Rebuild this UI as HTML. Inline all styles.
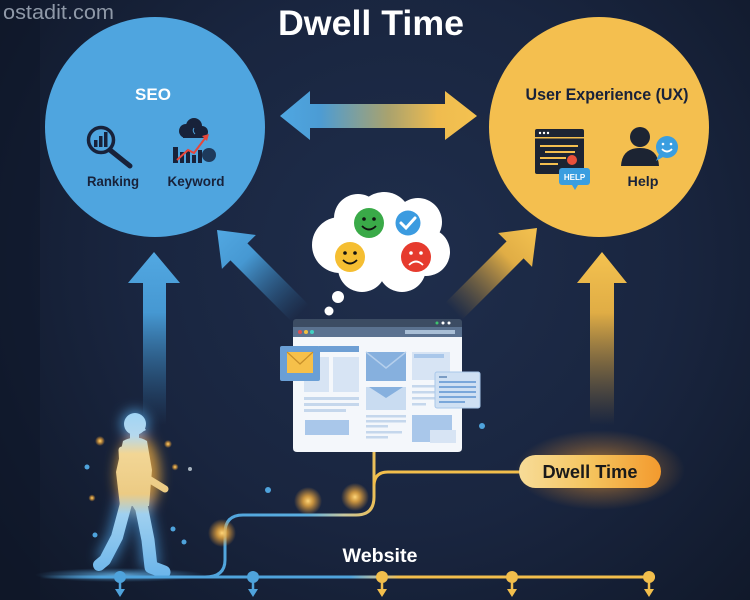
<!DOCTYPE html>
<html><head><meta charset="utf-8"><style>
html,body{margin:0;padding:0;background:#141d33;}
svg{display:block;}
text{font-family:"Liberation Sans",Arial,sans-serif;}
</style></head><body>
<svg width="750" height="600" viewBox="0 0 750 600" xmlns="http://www.w3.org/2000/svg">
<defs>
 <radialGradient id="bg" cx="400" cy="260" r="500" gradientUnits="userSpaceOnUse">
  <stop offset="0" stop-color="#1f2e4c"/>
  <stop offset="0.55" stop-color="#19253f"/>
  <stop offset="1" stop-color="#101829"/>
 </radialGradient>
 <linearGradient id="dbl" x1="280" y1="0" x2="477" y2="0" gradientUnits="userSpaceOnUse">
  <stop offset="0" stop-color="#4fa7e2"/>
  <stop offset="0.2" stop-color="#4c9cd4"/>
  <stop offset="0.55" stop-color="#a9a26e"/>
  <stop offset="0.8" stop-color="#efbc4f"/>
  <stop offset="1" stop-color="#f4c250"/>
 </linearGradient>
 <linearGradient id="blueUp" x1="0" y1="0" x2="0" y2="1">
  <stop offset="0" stop-color="#52a8e2"/>
  <stop offset="0.35" stop-color="#4698d2"/>
  <stop offset="1" stop-color="#2f6c9e" stop-opacity="0"/>
 </linearGradient>
 <linearGradient id="goldUp" x1="0" y1="0" x2="0" y2="1">
  <stop offset="0" stop-color="#f4c250"/>
  <stop offset="0.35" stop-color="#e0ad45"/>
  <stop offset="1" stop-color="#a8803a" stop-opacity="0"/>
 </linearGradient>
 <linearGradient id="pill" x1="0" y1="0" x2="1" y2="0">
  <stop offset="0" stop-color="#f7dc98"/>
  <stop offset="0.5" stop-color="#f5c45e"/>
  <stop offset="1" stop-color="#f39a2e"/>
 </linearGradient>
 <linearGradient id="path1" x1="200" y1="0" x2="380" y2="0" gradientUnits="userSpaceOnUse">
  <stop offset="0" stop-color="#4fa3dc"/>
  <stop offset="0.6" stop-color="#5aaee0"/>
  <stop offset="0.8" stop-color="#c8c8a0"/>
  <stop offset="1" stop-color="#f2be4c"/>
 </linearGradient>
 <linearGradient id="base" x1="40" y1="0" x2="660" y2="0" gradientUnits="userSpaceOnUse">
  <stop offset="0" stop-color="#4fa3dc" stop-opacity="0"/>
  <stop offset="0.1" stop-color="#4fa3dc"/>
  <stop offset="0.5" stop-color="#4fa3dc"/>
  <stop offset="0.55" stop-color="#c9c39a"/>
  <stop offset="0.58" stop-color="#f2be4c"/>
  <stop offset="1" stop-color="#f2be4c"/>
 </linearGradient>
 <radialGradient id="glow">
  <stop offset="0" stop-color="#ffd67a"/>
  <stop offset="0.35" stop-color="#f5b040" stop-opacity="0.8"/>
  <stop offset="1" stop-color="#f5a030" stop-opacity="0"/>
 </radialGradient>
 <radialGradient id="pillGlow">
  <stop offset="0" stop-color="#f5a030" stop-opacity="0.75"/>
  <stop offset="0.6" stop-color="#d88a30" stop-opacity="0.3"/>
  <stop offset="1" stop-color="#d88a30" stop-opacity="0"/>
 </radialGradient>
 <radialGradient id="ground">
  <stop offset="0" stop-color="#6fc0f5" stop-opacity="0.8"/>
  <stop offset="1" stop-color="#4fa3dc" stop-opacity="0"/>
 </radialGradient>
 <linearGradient id="personG" x1="0" y1="410" x2="0" y2="578" gradientUnits="userSpaceOnUse">
  <stop offset="0" stop-color="#9ed4f6"/>
  <stop offset="0.15" stop-color="#b4d8ee"/>
  <stop offset="0.26" stop-color="#f2d695"/>
  <stop offset="0.5" stop-color="#eccb84"/>
  <stop offset="0.62" stop-color="#9fd0f0"/>
  <stop offset="1" stop-color="#6ab4ea"/>
 </linearGradient>
 <filter id="blur6" x="-50%" y="-50%" width="200%" height="200%"><feGaussianBlur stdDeviation="6"/></filter>
</defs>

<rect width="750" height="600" fill="url(#bg)"/>
<rect width="40" height="600" fill="#0e1627" opacity="0.5"/>

<text x="3" y="19" font-size="20" fill="#8f99a8" textLength="111" lengthAdjust="spacingAndGlyphs">ostadit.com</text>

<text x="371" y="35" font-size="35" font-weight="bold" fill="#ffffff" text-anchor="middle" textLength="186" lengthAdjust="spacingAndGlyphs">Dwell Time</text>

<!-- SEO circle -->
<circle cx="155" cy="127" r="110" fill="#4fa5df"/>
<text x="153" y="100" font-size="17" font-weight="bold" fill="#ffffff" text-anchor="middle">SEO</text>
<circle cx="101" cy="140" r="12.5" fill="none" stroke="#18223a" stroke-width="3.5"/>
<rect x="94" y="140" width="3.5" height="7" fill="#18223a"/>
<rect x="99" y="136" width="3.5" height="11" fill="#18223a"/>
<rect x="104" y="132" width="3.5" height="15" fill="#18223a"/>
<line x1="110" y1="150" x2="130" y2="166" stroke="#18223a" stroke-width="5" stroke-linecap="round"/>
<text x="113" y="186" font-size="14" font-weight="bold" fill="#18223a" text-anchor="middle" textLength="52" lengthAdjust="spacingAndGlyphs">Ranking</text>
<circle cx="186" cy="131" r="7" fill="#18223a"/>
<circle cx="194" cy="126" r="8" fill="#18223a"/>
<circle cx="202" cy="132" r="6" fill="#18223a"/>
<rect x="183" y="131" width="22" height="7" fill="#18223a"/>
<path d="M194,128 q-2,3 1,6" stroke="#4fa5df" stroke-width="1" fill="none"/>
<rect x="173" y="147" width="5" height="16" fill="#18223a"/>
<rect x="180" y="152" width="4" height="11" fill="#18223a"/>
<rect x="186" y="150" width="4" height="13" fill="#18223a"/>
<rect x="192" y="155" width="4" height="8" fill="#18223a"/>
<rect x="198" y="150" width="4" height="13" fill="#18223a"/>
<circle cx="209" cy="155" r="7" fill="#1e3a5c"/>
<path d="M177,160 L188,150 L194,153 L206,137" stroke="#e8463a" stroke-width="2" fill="none"/>
<path d="M202,136 L209,134 L207,141 Z" fill="#e8463a"/>
<text x="196" y="186" font-size="14" font-weight="bold" fill="#18223a" text-anchor="middle" textLength="57" lengthAdjust="spacingAndGlyphs">Keyword</text>

<!-- UX circle -->
<circle cx="599" cy="127" r="110" fill="#f4bf4f"/>
<text x="607" y="100" font-size="17" font-weight="bold" fill="#18223a" text-anchor="middle" textLength="163" lengthAdjust="spacingAndGlyphs">User Experience (UX)</text>
<rect x="535" y="129" width="49" height="45" rx="2" fill="#1c2433"/>
<rect x="535" y="137" width="49" height="1.5" fill="#f4bf4f"/>
<circle cx="540" cy="133" r="1.2" fill="#fff"/><circle cx="544" cy="133" r="1.2" fill="#fff"/><circle cx="548" cy="133" r="1.2" fill="#fff"/>
<rect x="540" y="145" width="38" height="2" fill="#f4bf4f"/>
<rect x="545" y="151" width="30" height="2" fill="#f4bf4f"/>
<rect x="540" y="157" width="26" height="2" fill="#f4bf4f"/>
<rect x="540" y="163" width="18" height="2" fill="#f4bf4f"/>
<circle cx="572" cy="160" r="5" fill="#e8503a"/>
<path d="M565,171 q7,-6 14,0 z" fill="#e8503a"/>
<rect x="559" y="168" width="31" height="17" rx="3" fill="#3a9ee0"/>
<path d="M572,185 L575,190 L578,185 Z" fill="#3a9ee0"/>
<text x="574.5" y="180" font-size="8" font-weight="bold" fill="#ffffff" text-anchor="middle">HELP</text>
<circle cx="640" cy="137" r="10" fill="#1c2433"/>
<path d="M621,166 Q622,148 640,148 Q658,148 659,166 Z" fill="#1c2433"/>
<circle cx="667" cy="147" r="11" fill="#3a9ee0"/>
<path d="M659,154 L656,161 L663,157 Z" fill="#3a9ee0"/>
<circle cx="663" cy="144" r="1.3" fill="#fff"/><circle cx="671" cy="144" r="1.3" fill="#fff"/>
<path d="M662,149 q5,5 10,0" stroke="#fff" stroke-width="1.8" fill="none"/>
<text x="643" y="186" font-size="14" font-weight="bold" fill="#18223a" text-anchor="middle" textLength="31" lengthAdjust="spacingAndGlyphs">Help</text>

<!-- double arrow -->
<path d="M280,116 L310,91 L310,104 L445,104 L445,91 L477,116 L445,140 L445,128 L310,128 L310,140 Z" fill="url(#dbl)"/>

<!-- vertical arrows -->
<path d="M154,252 L180,283 L166,283 L166,425 L143,425 L143,283 L128,283 Z" fill="url(#blueUp)"/>
<path d="M602,252 L627,283 L614,283 L614,425 L590,425 L590,283 L577,283 Z" fill="url(#goldUp)"/>
<g transform="translate(217,230) rotate(-45)">
 <path d="M0,0 L24,31 L12,31 L12,118 L-12,118 L-12,31 L-24,31 Z" fill="url(#blueUp)"/>
</g>
<g transform="translate(537,228) rotate(45)">
 <path d="M0,0 L24,31 L12,31 L12,118 L-12,118 L-12,31 L-24,31 Z" fill="url(#goldUp)"/>
</g>

<!-- cloud -->
<g fill="#ffffff">
 <circle cx="340" cy="245" r="28"/>
 <circle cx="358" cy="218" r="24"/>
 <circle cx="384" cy="219" r="27"/>
 <circle cx="418" cy="222" r="24"/>
 <circle cx="426" cy="252" r="24"/>
 <circle cx="402" cy="268" r="24"/>
 <circle cx="362" cy="268" r="24"/>
 <circle cx="382" cy="247" r="30"/>
 <circle cx="338" cy="297" r="6"/>
 <circle cx="329" cy="311" r="4.5"/>
</g>
<circle cx="369" cy="223" r="15" fill="#3aaa48"/>
<circle cx="364" cy="219" r="1.8" fill="#111"/><circle cx="374" cy="219" r="1.8" fill="#111"/>
<path d="M362,226 q7,7 14,0" stroke="#111" stroke-width="1.8" fill="none"/>
<circle cx="408" cy="223" r="12.5" fill="#3b9be0"/>
<path d="M401,223 L406,228 L415,218" stroke="#fff" stroke-width="3" fill="none" stroke-linecap="round"/>
<circle cx="350" cy="257" r="15" fill="#f5be32"/>
<circle cx="345" cy="253" r="1.8" fill="#111"/><circle cx="355" cy="253" r="1.8" fill="#111"/>
<path d="M343,260 q7,7 14,0" stroke="#111" stroke-width="1.8" fill="none"/>
<circle cx="416" cy="257" r="15" fill="#e63b2e"/>
<circle cx="411" cy="253" r="1.8" fill="#fff"/><circle cx="421" cy="253" r="1.8" fill="#fff"/>
<path d="M409,265 q7,-7 14,0" stroke="#fff" stroke-width="1.8" fill="none"/>

<!-- browser -->
<rect x="293" y="319" width="169" height="18" rx="3" fill="#3c4c63"/>
<circle cx="437" cy="323" r="1.5" fill="#3ec46d"/><circle cx="443" cy="323" r="1.5" fill="#fff"/><circle cx="449" cy="323" r="1.5" fill="#fff"/>
<rect x="293" y="327" width="169" height="10" fill="#5b7290"/>
<circle cx="300" cy="332" r="2" fill="#e05050"/><circle cx="306" cy="332" r="2" fill="#f0c040"/><circle cx="312" cy="332" r="2" fill="#40d0c0"/>
<rect x="405" y="330" width="50" height="4" fill="#a9bfd6"/>
<path d="M293,337 H462 V448 Q462,452 458,452 H297 Q293,452 293,448 Z" fill="#f4f7fb"/>
<rect x="319" y="346" width="40" height="6" fill="#6e9fd4"/>
<rect x="304" y="357" width="25" height="35" fill="#d7e4f4"/>
<rect x="333" y="357" width="26" height="35" fill="#d7e4f4"/>
<rect x="304" y="397" width="55" height="3" fill="#c5d7ec"/>
<rect x="304" y="403" width="55" height="3" fill="#c5d7ec"/>
<rect x="304" y="409" width="42" height="3" fill="#c5d7ec"/>
<rect x="305" y="420" width="44" height="15" fill="#a9c7ea"/>
<rect x="280" y="346" width="40" height="35" rx="2" fill="#6a9fd6"/>
<rect x="287" y="352" width="26" height="21" fill="#f6c04a"/>
<path d="M287,352 L300,364 L313,352" stroke="#c8902a" stroke-width="1.2" fill="none"/>
<rect x="366" y="352" width="40" height="29" fill="#86b0de"/>
<path d="M366,352 L386,368 L406,352" stroke="#b5cfec" stroke-width="1.5" fill="none"/>
<rect x="366" y="387" width="40" height="23" fill="#c9dcf1"/>
<path d="M369,387 L386,398 L403,387 Z" fill="#86b0de"/>
<rect x="366" y="415" width="40" height="2.5" fill="#c5d7ec"/>
<rect x="366" y="420" width="40" height="2.5" fill="#c5d7ec"/>
<rect x="366" y="425" width="22" height="2.5" fill="#c5d7ec"/>
<rect x="366" y="431" width="36" height="2.5" fill="#c5d7ec"/>
<rect x="366" y="436" width="22" height="2.5" fill="#c5d7ec"/>
<rect x="412" y="352" width="38" height="28" fill="#d7e4f4"/>
<rect x="414" y="354" width="30" height="4" fill="#a9c7ea"/>
<rect x="412" y="385" width="24" height="2.5" fill="#c5d7ec"/>
<rect x="412" y="391" width="24" height="2.5" fill="#c5d7ec"/>
<rect x="412" y="397" width="24" height="2.5" fill="#c5d7ec"/>
<rect x="412" y="403" width="14" height="2.5" fill="#c5d7ec"/>
<rect x="435" y="372" width="45" height="36" rx="2" fill="#cfe0f3" stroke="#a9c7ea" stroke-width="1"/>
<rect x="439" y="376" width="8" height="2" fill="#7a9cc4"/>
<rect x="439" y="381" width="37" height="2" fill="#7aa7da"/>
<rect x="439" y="386" width="37" height="2" fill="#7aa7da"/>
<rect x="439" y="391" width="37" height="2" fill="#7aa7da"/>
<rect x="439" y="396" width="37" height="2" fill="#7aa7da"/>
<rect x="439" y="401" width="26" height="2" fill="#7aa7da"/>
<rect x="412" y="415" width="40" height="27" fill="#a9c7ea"/>
<rect x="430" y="430" width="26" height="13" fill="#d7e4f4"/>

<circle cx="482" cy="426" r="3" fill="#4fa3dc"/>

<!-- connectors -->
<path d="M205,577 Q225,577 225,560 L225,533 Q225,515 243,515 L356,515 Q374,515 374,497 L374,452" stroke="url(#path1)" stroke-width="3" fill="none"/>
<path d="M374,486 Q374,472 388,472 L522,472" stroke="#f2be4c" stroke-width="3" fill="none"/>

<!-- pill -->
<ellipse cx="600" cy="470" rx="85" ry="40" fill="url(#pillGlow)"/>
<rect x="519" y="455" width="142" height="33" rx="16.5" fill="url(#pill)"/>
<text x="590" y="478" font-size="18.5" font-weight="bold" fill="#1a1a1a" text-anchor="middle" textLength="95" lengthAdjust="spacingAndGlyphs">Dwell Time</text>

<!-- glow dots -->
<circle cx="308" cy="501" r="14" fill="url(#glow)"/>
<circle cx="355" cy="497" r="14" fill="url(#glow)"/>
<circle cx="222" cy="533" r="14" fill="url(#glow)"/>
<circle cx="100" cy="441" r="5" fill="url(#glow)"/>
<circle cx="168" cy="444" r="4" fill="url(#glow)"/>
<circle cx="175" cy="467" r="3.5" fill="url(#glow)"/>
<circle cx="92" cy="498" r="3.5" fill="url(#glow)"/>
<circle cx="87" cy="467" r="2.5" fill="#4fa3dc"/>
<circle cx="190" cy="469" r="2" fill="#a8b4c0"/>
<circle cx="173" cy="529" r="2.5" fill="#4fa3dc"/>
<circle cx="184" cy="542" r="2.5" fill="#4fa3dc"/>
<circle cx="95" cy="535" r="2.5" fill="#4fa3dc"/>
<circle cx="268" cy="490" r="3" fill="#4fa3dc"/>

<ellipse cx="120" cy="575" rx="85" ry="7" fill="url(#ground)"/>

<!-- person glow -->
<g filter="url(#blur6)">
 <ellipse cx="138" cy="475" rx="22" ry="40" fill="#f5b040" opacity="0.75"/>
 <circle cx="135" cy="424" r="14" fill="#5ab0f0" opacity="0.7"/>
 <path d="M126,500 L116,538 L104,562 M140,500 L148,540 L151,568" stroke="#4fa8ee" stroke-width="18" fill="none" opacity="0.6"/>
</g>
<!-- person -->
<g fill="url(#personG)" stroke="url(#personG)" stroke-linecap="round" stroke-linejoin="round">
 <circle cx="135" cy="424" r="11" stroke="none"/>
 <path d="M142,425 L146,430 L142,432 Z" stroke="none"/>
 <rect x="130" y="432" width="9" height="10" stroke="none"/>
 <path d="M123,441 Q136,434 147,441 L152,470 L149,506 L120,506 L116,472 Z" stroke="none"/>
 <path d="M142,447 L147,478 L165,489" stroke-width="7" fill="none"/>
 <path d="M122,450 L124,485 L138,508" stroke-width="7" fill="none"/>
 <path d="M140,500 L148,540 L151,567 L164,572" stroke-width="13" fill="none"/>
 <path d="M127,500 L117,537 L105,560 L99,565" stroke-width="12" fill="none"/>
</g>

<!-- baseline -->
<line x1="40" y1="577" x2="655" y2="577" stroke="url(#base)" stroke-width="3"/>
<g fill="#4fa3dc" stroke="#4fa3dc">
 <circle cx="120" cy="577" r="6" stroke="none"/>
 <line x1="120" y1="577" x2="120" y2="592" stroke-width="2.5"/>
 <path d="M115,589 L125,589 L120,597 Z" stroke="none"/>
 <circle cx="253" cy="577" r="6" stroke="none"/>
 <line x1="253" y1="577" x2="253" y2="592" stroke-width="2.5"/>
 <path d="M248,589 L258,589 L253,597 Z" stroke="none"/>
</g>
<g fill="#f2be4c" stroke="#f2be4c">
 <circle cx="382" cy="577" r="6" stroke="none"/>
 <line x1="382" y1="577" x2="382" y2="592" stroke-width="2.5"/>
 <path d="M377,589 L387,589 L382,597 Z" stroke="none"/>
 <circle cx="512" cy="577" r="6" stroke="none"/>
 <line x1="512" y1="577" x2="512" y2="592" stroke-width="2.5"/>
 <path d="M507,589 L517,589 L512,597 Z" stroke="none"/>
 <circle cx="649" cy="577" r="6" stroke="none"/>
 <line x1="649" y1="577" x2="649" y2="592" stroke-width="2.5"/>
 <path d="M644,589 L654,589 L649,597 Z" stroke="none"/>
</g>

<text x="380" y="562" font-size="19.5" font-weight="bold" fill="#ffffff" text-anchor="middle" textLength="75" lengthAdjust="spacingAndGlyphs">Website</text>
</svg>
</body></html>
